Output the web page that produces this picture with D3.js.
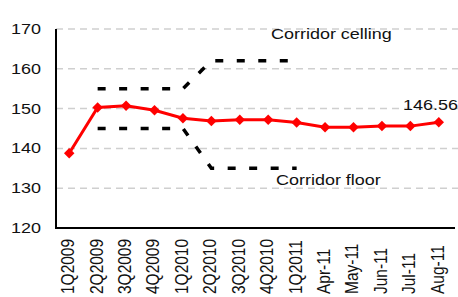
<!DOCTYPE html>
<html>
<head>
<meta charset="utf-8">
<script src="https://cdn.jsdelivr.net/npm/d3@7.9.0/dist/d3.min.js"></script>
<style>
  html, body { margin: 0; padding: 0; background: #fff; }
  svg { display: block; font-family: "Liberation Sans", Arial, sans-serif; }
</style>
</head>
<body>
<svg id="chart" width="458" height="297"></svg>
<script>
// chart data
const categories = ['1Q2009', '2Q2009', '3Q2009', '4Q2009', '1Q2010', '2Q2010', '3Q2010',
  '4Q2010', '1Q2011', 'Apr-11', 'May-11', 'Jun-11', 'Jul-11', 'Aug-11'];
const rateValues = [138.8, 150.3, 150.7, 149.6, 147.6, 146.9, 147.2, 147.2, 146.5,
  145.3, 145.3, 145.6, 145.6, 146.56];
const ceilingValues = [null, 155, 155, 155, 155, 162, 162, 162, 162, null, null, null, null, null];
const floorValues = [null, 145, 145, 145, 145, 135, 135, 135, 135, null, null, null, null, null];
const yTicks = [120, 130, 140, 150, 160, 170];
const lastLabel = '146.56';

const svg = d3.select('#chart');
const stretch = 1.16; // source picture is widened a little

const x = d3.scaleBand().domain(categories).range([55, 453]).padding(0);
const y = d3.scaleLinear().domain([120, 170]).range([228, 29]);
const cx = d => x(d) + x.bandwidth() / 2;

// gridlines
svg.append('g')
  .selectAll('line')
  .data(yTicks.filter(t => t > 120))
  .join('line')
  .attr('x1', 56).attr('x2', 458)
  .attr('y1', d => y(d)).attr('y2', d => y(d))
  .attr('stroke', '#cfcfcf')
  .attr('stroke-width', 1.5)
  .attr('stroke-dasharray', '7,5');

// y tick labels
svg.append('g')
  .selectAll('text')
  .data(yTicks)
  .join('text')
  .attr('transform', d => `translate(41,${y(d)}) scale(${stretch},1)`)
  .attr('text-anchor', 'end')
  .attr('dominant-baseline', 'central')
  .attr('font-size', 15.5)
  .attr('fill', '#111')
  .text(d => d);

// x tick labels, rotated
svg.append('g')
  .selectAll('text')
  .data(categories)
  .join('text')
  .attr('transform', d => `translate(${cx(d) - 1},294) scale(${stretch},1) rotate(-90)`)
  .attr('text-anchor', 'start')
  .attr('dominant-baseline', 'central')
  .attr('font-size', 15.5)
  .attr('fill', '#111')
  .text(d => d);

// corridor lines
const corridor = d3.line()
  .defined(d => d.v != null)
  .x(d => cx(d.c))
  .y(d => y(d.v));

[ceilingValues, floorValues].forEach(vals => {
  svg.append('path')
    .datum(categories.map((c, i) => ({ c, v: vals[i] })))
    .attr('d', corridor)
    .attr('fill', 'none')
    .attr('stroke', '#000')
    .attr('stroke-width', 3.5)
    .attr('stroke-dasharray', '8,13.5');
});

// axes lines
svg.append('line')
  .attr('x1', 56).attr('x2', 56).attr('y1', y(170)).attr('y2', y(120))
  .attr('stroke', '#000').attr('stroke-width', 2);
svg.append('line')
  .attr('x1', 55).attr('x2', 455).attr('y1', y(120)).attr('y2', y(120))
  .attr('stroke', '#000').attr('stroke-width', 2);

// red series
const rateData = categories.map((c, i) => ({ c, v: rateValues[i] }));
svg.append('path')
  .datum(rateData)
  .attr('d', d3.line().x(d => cx(d.c)).y(d => y(d.v)))
  .attr('fill', 'none')
  .attr('stroke', '#ff0000')
  .attr('stroke-width', 3);

svg.append('g')
  .selectAll('path')
  .data(rateData)
  .join('path')
  .attr('transform', d => `translate(${cx(d.c)},${y(d.v)})`)
  .attr('d', d3.symbol(d3.symbolDiamond2, 70))
  .attr('fill', '#ff0000');

// annotations
const note = (txt, px, py) => svg.append('text')
  .attr('transform', `translate(${px},${py}) scale(${stretch},1)`)
  .attr('font-size', 15.5)
  .attr('fill', '#111')
  .text(txt);

note('Corridor celling', 271, 39);
note('Corridor floor', 276, 184.5);
note(lastLabel, 403, 110);
</script>
</body>
</html>
